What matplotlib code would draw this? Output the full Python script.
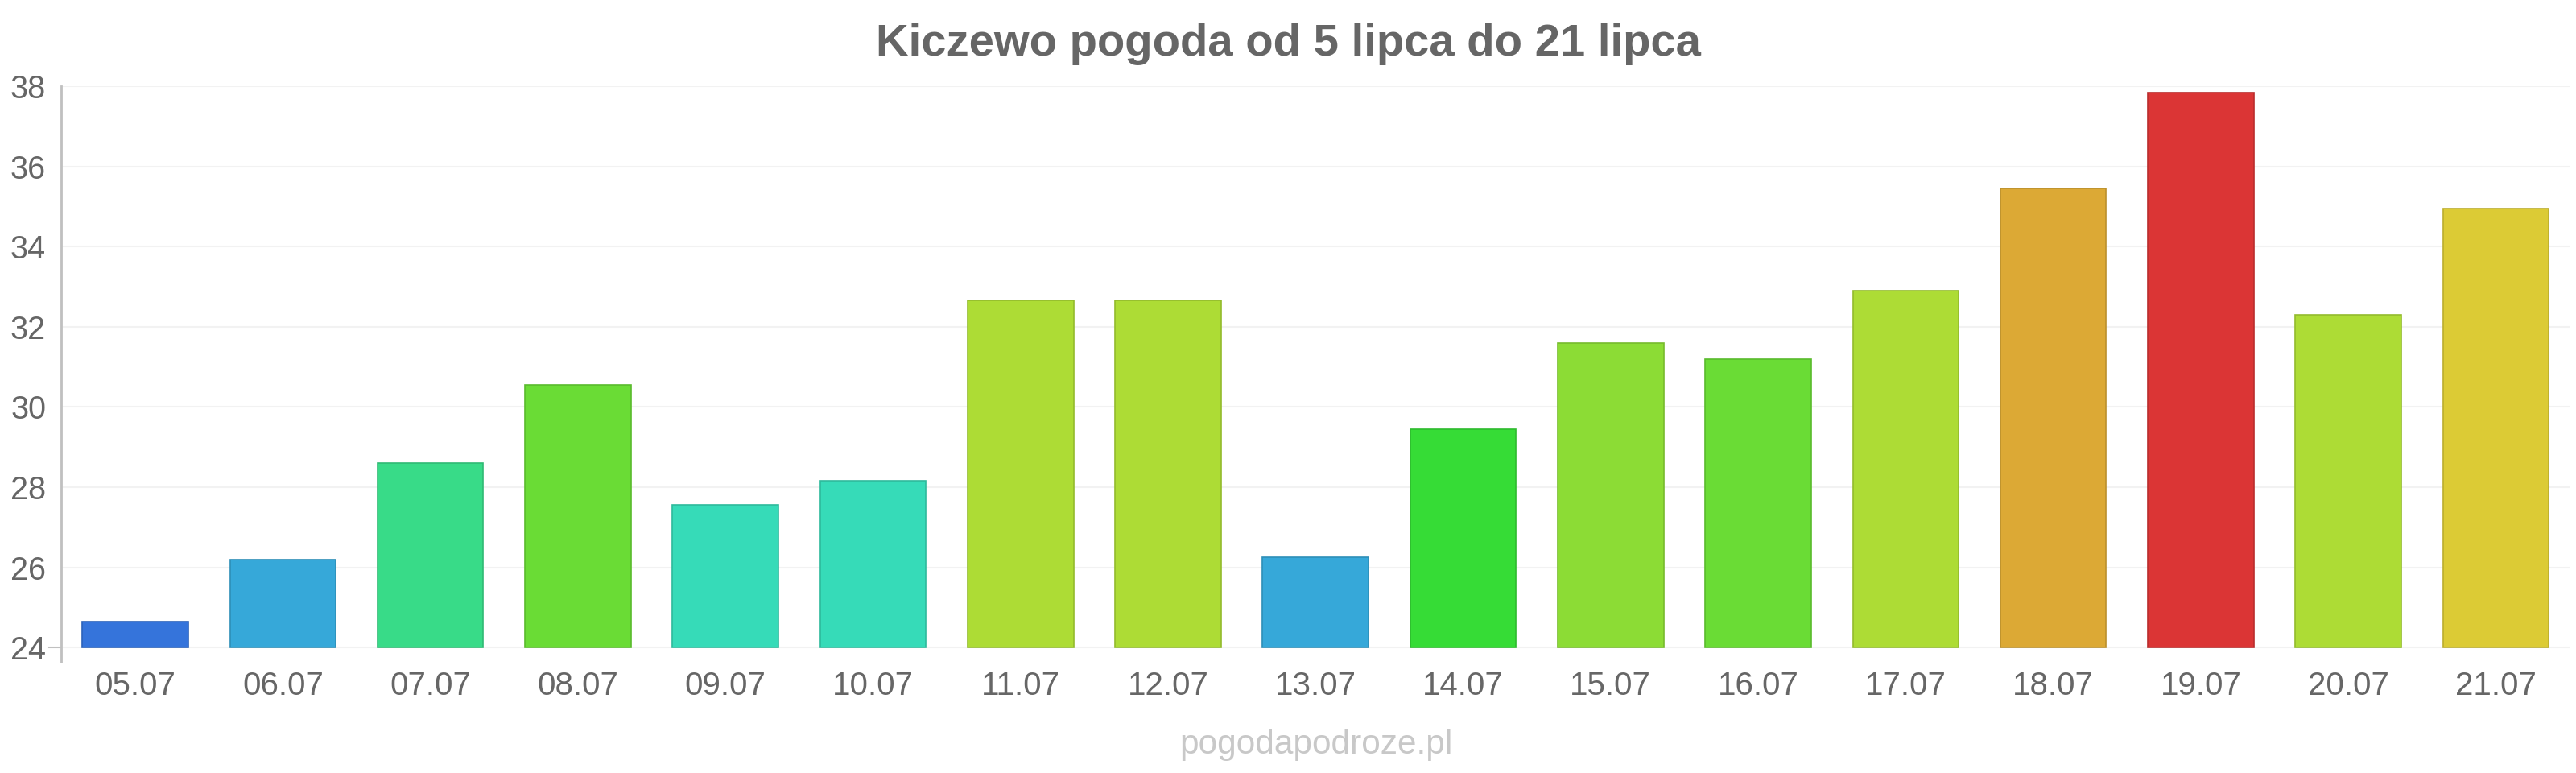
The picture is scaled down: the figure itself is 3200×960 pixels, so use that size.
import matplotlib
matplotlib.use("Agg")
import matplotlib.pyplot as plt
from matplotlib.colors import to_rgb

plt.rcParams['font.family'] = ['Liberation Sans', 'DejaVu Sans']

# dane: temperatura maksymalna (°C)
days  = ["05.07", "06.07", "07.07", "08.07", "09.07", "10.07", "11.07", "12.07", "13.07",
         "14.07", "15.07", "16.07", "17.07", "18.07", "19.07", "20.07", "21.07"]
temps = [24.65, 26.2, 28.6, 30.55, 27.55, 28.15, 32.65, 32.65, 26.25,
         29.45, 31.6, 31.2, 32.9, 35.45, 37.85, 32.3, 34.95]
colors = ["#3574db", "#36a8d9", "#38db88", "#6adc35", "#36dbb8", "#36dbb8", "#addc35",
          "#addc35", "#36a8d9", "#36dc36", "#8cdc35", "#6adc35", "#addc35", "#dca935",
          "#db3535", "#addc35", "#dccb35"]
yticks = [24, 26, 28, 30, 32, 34, 36, 38]
BASE = 24

title = "Kiczewo pogoda od 5 lipca do 21 lipca"
credit = "pogodapodroze.pl"

fig = plt.figure(figsize=(32, 9.6), dpi=100)
ax = fig.add_axes([0.0239, 0.1437, 0.9736, 0.7448])

# krawędzie ciut ciemniejsze od wypełnienia
edges = [tuple(c * 0.85 for c in to_rgb(col)) for col in colors]
x = list(range(len(days)))
ax.bar(x, [t - BASE for t in temps], bottom=BASE, width=0.718,
       color=colors, edgecolor=edges, linewidth=1.2, zorder=3)

ax.set_xlim(-0.5, len(days) - 0.5)
ax.set_ylim(BASE - 0.36, 38)
ax.set_yticks(yticks)
ax.set_xticks(x)
ax.set_xticklabels(days)

for y in yticks:
    ax.axhline(y, color="#f2f2f2", linewidth=1.5, zorder=1)
# mały znacznik przy 24
ax.plot([-0.585, -0.5], [BASE, BASE], color="#c0c0c0", linewidth=1.5, clip_on=False)

for s in ["top", "right", "bottom"]:
    ax.spines[s].set_visible(False)
ax.spines["left"].set_color("#c0c0c0")
ax.spines["left"].set_linewidth(2)

ax.tick_params(axis="both", length=0, labelcolor="#666666")
ax.tick_params(axis="x", labelsize=29, pad=8)
ax.tick_params(axis="y", labelsize=28.5, pad=14)

fig.text(0.5, 0.943, title, ha="center", va="center", fontsize=40.5,
         fontweight="bold", color="#666666")
fig.text(0.511, 0.036, credit, ha="center", va="center", fontsize=30.5, color="#c8c8c8")

fig.savefig("out.png", dpi=100, facecolor="white")
